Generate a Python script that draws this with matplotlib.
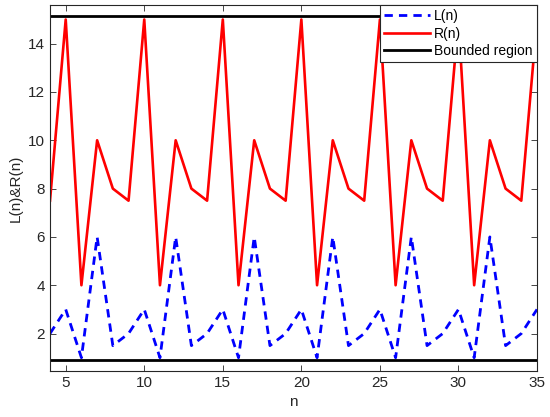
import numpy as np
import matplotlib
matplotlib.use("Agg")
import matplotlib.pyplot as plt

plt.rcParams["font.family"] = ["Liberation Sans", "DejaVu Sans"]

n = list(range(4, 36))
L_n = [2, 3, 1, 6, 1.5, 2,
       3, 1, 6, 1.5, 2,
       3, 1, 6, 1.5, 2,
       3, 1, 6, 1.5, 2,
       3, 1, 6, 1.5, 2,
       3, 1, 6, 1.5, 2,
       3]
R_n = [7.5, 15, 4, 10, 8, 7.5,
       15, 4, 10, 8, 7.5,
       15, 4, 10, 8, 7.5,
       15, 4, 10, 8, 7.5,
       15, 4, 10, 8, 7.5,
       15, 4, 10, 8, 7.5,
       15]
bound_low = 0.9
bound_high = 15.15

fig = plt.figure(figsize=(5.5, 4.17), dpi=100)
ax = fig.add_axes([50/550, 1 - 371/417, (537 - 50)/550, (371 - 5)/417])

ax.plot(n, L_n, "--", color="#0000ff", lw=2, dashes=(3, 2.2), label="L(n)")
ax.plot(n, R_n, "-", color="#ff0000", lw=1.9, label="R(n)")
ax.plot([n[0], n[-1]], [bound_high, bound_high], "-", color="black", lw=2, label="Bounded region")
ax.plot([n[0], n[-1]], [bound_low, bound_low], "-", color="black", lw=2)

ax.set_xlim(4, 35)
ax.set_ylim(0.45, 15.6)
ax.set_xticks([5, 10, 15, 20, 25, 30, 35])
ax.set_yticks([2, 4, 6, 8, 10, 12, 14])
ax.tick_params(direction="in", top=True, right=True, labelsize=11, colors="#262626", length=4, width=0.6)
for s in ax.spines.values():
    s.set_color("#262626")
    s.set_linewidth(0.8)

ax.set_xlabel("n", fontsize=11, color="#262626")
ax.set_ylabel("L(n)&R(n)", fontsize=11, color="#262626")

leg = ax.legend(loc="upper right", fontsize=10, frameon=True, fancybox=False,
                edgecolor="#262626", framealpha=1, borderaxespad=0,
                handlelength=3.3, handletextpad=0.3, borderpad=0.3, labelspacing=0.25)
leg.get_frame().set_linewidth(0.8)

fig.savefig("out.png", dpi=100)
